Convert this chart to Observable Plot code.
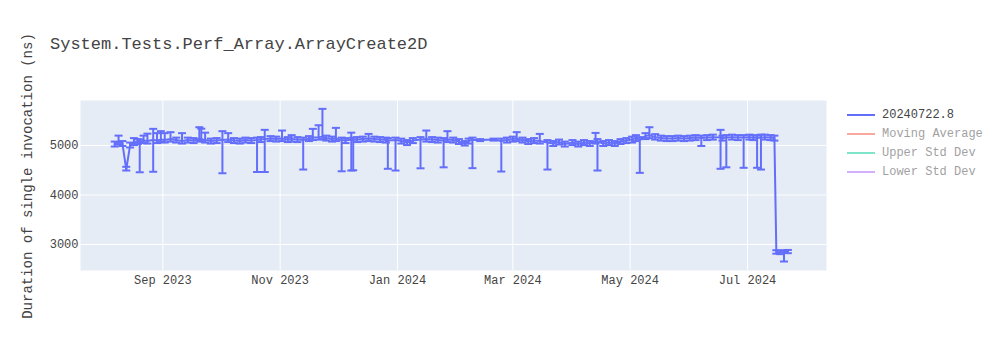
<!DOCTYPE html>
<html>
<head>
<meta charset="utf-8">
<script src="https://cdn.jsdelivr.net/npm/d3@7"></script>
<script src="https://cdn.jsdelivr.net/npm/@observablehq/plot@0.6"></script>
<style>
  html, body { margin: 0; padding: 0; background: #fff; }
  #wrap { position: relative; width: 1000px; height: 350px; font-family: "Liberation Mono", "Courier New", monospace; color: #444; }
  #title { position: absolute; left: 50px; top: 35px; font-size: 17px; line-height: 20px; white-space: nowrap; }
  #ylabel { position: absolute; left: 28px; top: 176px; transform: translate(-50%, -50%) rotate(-90deg); font-size: 14px; white-space: nowrap; }
  .leg { position: absolute; left: 847px; height: 19px; font-size: 12px; white-space: nowrap; display: flex; align-items: center; }
  .leg .sw { width: 28px; height: 2px; margin-right: 7px; }
  .leg.off { opacity: 0.5; }
</style>
</head>
<body>
<div id="wrap">
  <div id="chart"></div>
  <div id="title"></div>
  <div id="ylabel"></div>
  <div id="legend"></div>
</div>
<script>
const titleText = "System.Tests.Perf_Array.ArrayCreate2D";
const yLabel = "Duration of single invocation (ns)";
const seriesNames = ["20240722.8", "Moving Average", "Upper Std Dev", "Lower Std Dev"];
const seriesColors = ["#636efa", "#EF553B", "#00cc96", "#ab63fa"];
const seriesVisible = [true, false, false, false];

const xTickDates = ["2023-09-01", "2023-11-01", "2024-01-01", "2024-03-01", "2024-05-01", "2024-07-01"];
const yTickValues = [3000, 4000, 5000];

const dates = [
  "2023-08-07","2023-08-09","2023-08-11","2023-08-13","2023-08-15","2023-08-17","2023-08-19","2023-08-20","2023-08-22","2023-08-24","2023-08-27","2023-08-29","2023-08-31",
  "2023-09-02","2023-09-05","2023-09-08","2023-09-11","2023-09-14","2023-09-17","2023-09-20","2023-09-21","2023-09-23","2023-09-26","2023-09-29",
  "2023-10-02","2023-10-05","2023-10-08","2023-10-11","2023-10-14","2023-10-17","2023-10-20","2023-10-22","2023-10-24","2023-10-27","2023-10-30",
  "2023-11-02","2023-11-05","2023-11-07","2023-11-10","2023-11-13","2023-11-16","2023-11-18","2023-11-21","2023-11-23","2023-11-25","2023-11-28","2023-11-30",
  "2023-12-03","2023-12-05","2023-12-08","2023-12-09","2023-12-11","2023-12-14","2023-12-17","2023-12-20","2023-12-23","2023-12-26","2023-12-27","2023-12-31",
  "2024-01-03","2024-01-06","2024-01-09","2024-01-13","2024-01-16","2024-01-19","2024-01-22","2024-01-25","2024-01-27","2024-01-30",
  "2024-02-02","2024-02-05","2024-02-07","2024-02-09","2024-02-13","2024-02-20","2024-02-24","2024-02-27",
  "2024-03-01","2024-03-03","2024-03-06","2024-03-09","2024-03-12","2024-03-15","2024-03-19","2024-03-22","2024-03-25","2024-03-28",
  "2024-04-01","2024-04-04","2024-04-07","2024-04-10","2024-04-13","2024-04-14","2024-04-17","2024-04-20","2024-04-23","2024-04-26","2024-04-29",
  "2024-05-02","2024-05-04","2024-05-06","2024-05-09","2024-05-11","2024-05-14","2024-05-17","2024-05-20","2024-05-23","2024-05-26","2024-05-29",
  "2024-06-01","2024-06-04","2024-06-07","2024-06-10","2024-06-13","2024-06-17","2024-06-18","2024-06-20","2024-06-23","2024-06-26","2024-06-29",
  "2024-07-02","2024-07-04","2024-07-06","2024-07-08","2024-07-10","2024-07-13","2024-07-15","2024-07-16","2024-07-18","2024-07-20","2024-07-22"
];
const values = [
  5030,5070,5040,4520,5010,5060,5080,5070,5100,5090,5110,5100,5120,
  5110,5130,5110,5090,5110,5100,5140,5130,5110,5090,5100,
  5110,5120,5100,5090,5110,5100,5110,5120,5130,5140,5130,
  5140,5120,5130,5120,5110,5140,5160,5170,5180,5150,5130,5140,
  5110,5100,5120,5110,5120,5130,5140,5130,5120,5110,5100,5110,
  5090,5060,5100,5120,5130,5120,5110,5100,5120,5110,
  5080,5040,5090,5110,5110,5120,5090,5110,
  5130,5140,5110,5080,5100,5090,5060,5040,5070,5030,
  5060,5030,5060,5040,5090,5080,5040,5060,5040,5080,5100,
  5120,5150,5110,5190,5210,5170,5150,5140,5140,5150,5140,
  5150,5160,5150,5160,5170,5160,5150,5160,5170,5160,5160,
  5170,5160,5150,5160,5170,5160,5150,2850,2840,2850,2860
];
const lows = [
  4980,5020,4990,4495,4960,5010,5030,4460,5050,5040,4470,5050,5070,
  5060,5080,5060,5040,5060,5050,5090,5080,5060,5040,5050,
  4440,5070,5050,5040,5060,5050,4465,5070,4465,5090,5080,
  5090,5070,5080,5070,4515,5090,5110,5120,5130,5100,5080,5090,
  4480,5050,4495,4500,5070,5080,5090,5080,5070,5060,4530,4495,
  5040,5010,5050,4540,5080,5070,5060,4560,5070,5060,
  5030,5000,5040,4543,5090,5100,4475,5060,
  5080,5090,5060,5030,5050,5040,4515,4990,5020,4980,
  5010,4980,5010,4990,5040,4495,4990,5010,4990,5030,5050,
  5060,5090,4448,5130,5150,5120,5100,5090,5090,5100,5090,
  5100,5110,4990,5110,5120,4530,5100,4560,5120,5110,4550,
  5120,5110,4550,4515,5120,5110,5100,2815,2805,2657,2825
];
const highs = [
  5080,5200,5090,4570,5060,5150,5130,5120,5200,5240,5337,5250,5290,
  5250,5270,5160,5250,5160,5150,5370,5340,5260,5140,5150,
  5290,5250,5150,5140,5160,5150,5160,5170,5317,5190,5180,
  5303,5170,5210,5170,5160,5190,5337,5410,5741,5200,5180,5357,
  5160,5150,5260,5160,5170,5180,5235,5180,5170,5160,5150,5160,
  5140,5110,5150,5170,5303,5170,5160,5150,5290,5160,
  5130,5090,5140,5160,5130,5140,5140,5160,
  5180,5270,5160,5130,5150,5235,5110,5090,5120,5080,
  5110,5080,5110,5090,5255,5130,5090,5110,5090,5130,5150,
  5180,5210,5170,5250,5370,5230,5200,5190,5190,5200,5190,
  5200,5210,5200,5210,5220,5317,5200,5210,5220,5210,5210,
  5220,5210,5200,5220,5220,5210,5200,2885,2875,2885,2890
];

const data = dates.map((d, i) => ({date: new Date(d), value: values[i], lo: lows[i], hi: highs[i]}));
const xTicks = xTickDates.map(d => new Date(d));
const lineColor = seriesColors[0];

const capSymbol = { draw(ctx) { ctx.moveTo(-4, 0); ctx.lineTo(4, 0); } };

const chart = Plot.plot({
  width: 1000,
  height: 350,
  marginLeft: 80,
  marginRight: 174,
  marginTop: 100,
  marginBottom: 80,
  style: { background: "transparent", fontFamily: "'Liberation Mono', 'Courier New', monospace", fontSize: "12px", color: "#444" },
  x: { type: "utc", domain: [new Date("2023-07-20T05:00:00Z"), new Date("2024-08-11T02:00:00Z")] },
  y: { domain: [2475, 5910] },
  marks: [
    Plot.frame({ fill: "#E5ECF6", stroke: null }),
    Plot.gridX(xTicks, { stroke: "#ffffff", strokeOpacity: 1, strokeWidth: 1 }),
    Plot.gridY(yTickValues, { stroke: "#ffffff", strokeOpacity: 1, strokeWidth: 1 }),
    Plot.axisX(xTicks, { tickFormat: d3.utcFormat("%b %Y"), tickSize: 0, tickPadding: 5, label: null }),
    Plot.axisY(yTickValues, { tickFormat: d3.format("d"), tickSize: 0, tickPadding: 2, label: null }),
    Plot.ruleX(data, { x: "date", y1: "lo", y2: "hi", stroke: lineColor, strokeWidth: 2 }),
    Plot.dot(data, { x: "date", y: "lo", symbol: capSymbol, fill: "none", stroke: lineColor, strokeWidth: 2 }),
    Plot.dot(data, { x: "date", y: "hi", symbol: capSymbol, fill: "none", stroke: lineColor, strokeWidth: 2 }),
    Plot.line(data, { x: "date", y: "value", stroke: lineColor, strokeWidth: 2 })
  ]
});
document.getElementById("chart").appendChild(chart);

document.getElementById("title").textContent = titleText;
document.getElementById("ylabel").textContent = yLabel;

const legend = document.getElementById("legend");
const legendTops = [105.5, 124.5, 143.5, 162.5];
seriesNames.forEach((name, i) => {
  const row = document.createElement("div");
  row.className = "leg" + (seriesVisible[i] ? "" : " off");
  row.style.top = legendTops[i] + "px";
  const sw = document.createElement("div");
  sw.className = "sw";
  sw.style.background = seriesColors[i];
  const tx = document.createElement("span");
  tx.textContent = name;
  row.appendChild(sw);
  row.appendChild(tx);
  legend.appendChild(row);
});
</script>
</body>
</html>
